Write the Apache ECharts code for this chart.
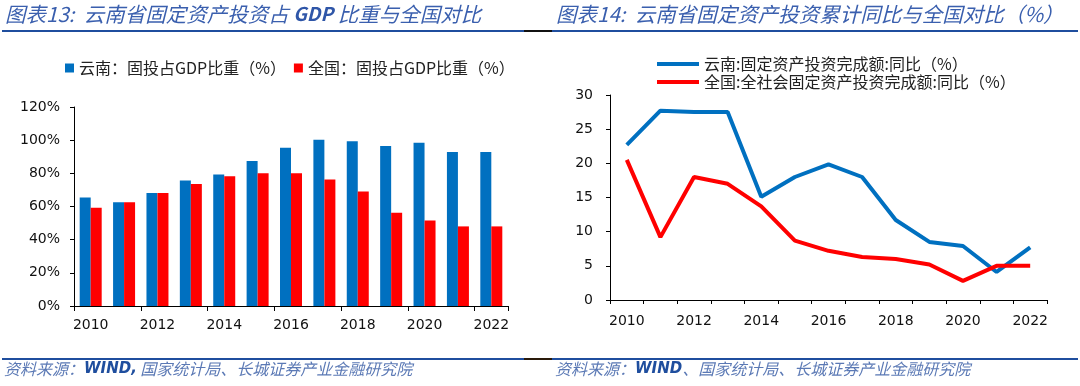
<!DOCTYPE html>
<html>
<head>
<meta charset="utf-8">
<script src="https://cdn.jsdelivr.net/npm/echarts@6/dist/echarts.min.js"></script>
<style>html,body{margin:0;padding:0;background:#fff}#c{width:1080px;height:386px}</style>
</head>
<body>
<div id="c"></div>
<script>
const years = ['2010','2011','2012','2013','2014','2015','2016','2017','2018','2019','2020','2021','2022'];
const yunnanShare = [65.4,62.6,68.2,75.7,79.3,87.5,95.5,100.3,99.3,96.5,98.5,92.9,92.9];
const chinaShare  = [59.2,62.6,68.2,73.6,78.3,80.1,80.1,76.3,69.0,56.2,51.6,48.0,48.0];
const yunnanYoY = [22.7,27.7,27.5,27.5,15.1,18.0,19.85,18.0,11.7,8.5,7.9,4.1,7.7];
const chinaYoY  = [20.5,9.2,18.0,17.0,13.7,8.7,7.2,6.3,6.0,5.2,2.8,5.0,5.0];
const barNames = ['云南：固投占GDP比重（%）','全国：固投占GDP比重（%）'];
const lineNames = ['云南:固定资产投资完成额:同比（%）','全国:全社会固定资产投资完成额:同比（%）'];

const BLUE = '#0070C0', RED = '#FF0000';
const numFont = 'DejaVu Sans';
const cjkFont = 'Noto Sans CJK SC';
const titleColor = '#3A5FAE';
const ruleColor = '#1F4E9E';

const chart = echarts.init(document.getElementById('c'));
const axisCommon = {
  axisLine:{show:true,lineStyle:{color:'#000',width:1}},
  axisTick:{show:true,inside:false,length:4,lineStyle:{color:'#000'}},
  splitLine:{show:false},
};
const titleRich = {
  t:{font:'italic 20.5px "Noto Sans CJK SC"',fill:titleColor},
  g:{font:'italic 600 19px "Noto Sans CJK SC"',fill:'#2F56A8'}
};
chart.setOption({
  animation:false,
  textStyle:{fontFamily:cjkFont},
  grid:[
    {left:74,right:572,top:107,bottom:80,containLabel:false},
    {left:610,right:33,top:95,bottom:86,containLabel:false}
  ],
  legend:[
    {data:barNames,left:60,top:55,itemWidth:9,itemHeight:9,itemGap:8,icon:'rect',
     textStyle:{fontSize:16,color:'#222',fontFamily:cjkFont}},
    {data:lineNames,left:652,top:50,orient:'vertical',itemWidth:42,itemHeight:4,itemGap:0,icon:'rect',
     textStyle:{fontSize:16,color:'#222',fontFamily:cjkFont,lineHeight:18}}
  ],
  xAxis:[
    Object.assign({},axisCommon,{type:'category',gridIndex:0,data:years,boundaryGap:true,
      axisTick:{show:true,length:5,interval:1,lineStyle:{color:'#000'}},
      axisLabel:{interval:1,margin:12,fontSize:14,color:'#111',fontFamily:numFont}}),
    Object.assign({},axisCommon,{type:'category',gridIndex:1,data:years,boundaryGap:true,
      axisTick:{show:true,length:4,interval:0,lineStyle:{color:'#000'}},
      axisLabel:{interval:1,margin:14,fontSize:14,color:'#111',fontFamily:numFont}})
  ],
  yAxis:[
    Object.assign({},axisCommon,{type:'value',gridIndex:0,min:0,max:120,interval:20,
      axisLabel:{formatter:'{value}%',margin:14,fontSize:14,color:'#111',fontFamily:numFont}}),
    Object.assign({},axisCommon,{type:'value',gridIndex:1,min:0,max:30,interval:5,
      axisLabel:{margin:17,fontSize:14,color:'#111',fontFamily:numFont}})
  ],
  series:[
    {name:barNames[0],type:'bar',xAxisIndex:0,yAxisIndex:0,data:yunnanShare,barWidth:11,barGap:'0%',itemStyle:{color:BLUE}},
    {name:barNames[1],type:'bar',xAxisIndex:0,yAxisIndex:0,data:chinaShare,barWidth:11,barGap:'0%',itemStyle:{color:RED}},
    {name:lineNames[0],type:'line',xAxisIndex:1,yAxisIndex:1,data:yunnanYoY,showSymbol:false,symbol:'none',lineStyle:{color:BLUE,width:4},itemStyle:{color:BLUE}},
    {name:lineNames[1],type:'line',xAxisIndex:1,yAxisIndex:1,data:chinaYoY,showSymbol:false,symbol:'none',lineStyle:{color:RED,width:4},itemStyle:{color:RED}}
  ],
  graphic:[
    {type:'text',left:5,top:4,style:{text:'{t|图表13:  云南省固定资产投资占 }{g|GDP}{t| 比重与全国对比}',rich:titleRich}},
    {type:'text',left:556,top:4,style:{text:'{t|图表14:  云南省固定资产投资累计同比与全国对比（%）}',rich:titleRich}},
    {type:'line',shape:{x1:2,y1:31,x2:524,y2:31},style:{stroke:ruleColor,lineWidth:2}},
    {type:'line',shape:{x1:524,y1:31,x2:552,y2:31},style:{stroke:'#111',lineWidth:2}},
    {type:'line',shape:{x1:552,y1:31,x2:1078,y2:31},style:{stroke:ruleColor,lineWidth:2}},
    {type:'line',shape:{x1:2,y1:359,x2:524,y2:359},style:{stroke:ruleColor,lineWidth:2}},
    {type:'line',shape:{x1:524,y1:359,x2:552,y2:359},style:{stroke:'#2a1a0a',lineWidth:2}},
    {type:'line',shape:{x1:552,y1:359,x2:1078,y2:359},style:{stroke:ruleColor,lineWidth:2}},
    {type:'text',left:4,top:361,style:{text:'{a|资料来源：}{b|WIND,} {a|国家统计局、长城证券产业金融研究院}',
      rich:{a:{font:'italic 16px "Noto Sans CJK SC"',fill:'#5B79B5'},b:{font:'italic bold 15px "DejaVu Sans"',fill:'#1F4E9E'}}}},
    {type:'text',left:555,top:361,style:{text:'{a|资料来源：}{b|WIND}{a|、国家统计局、长城证券产业金融研究院}',
      rich:{a:{font:'italic 16px "Noto Sans CJK SC"',fill:'#5B79B5'},b:{font:'italic bold 15px "DejaVu Sans"',fill:'#1F4E9E'}}}}
  ]
});
</script>
</body>
</html>
